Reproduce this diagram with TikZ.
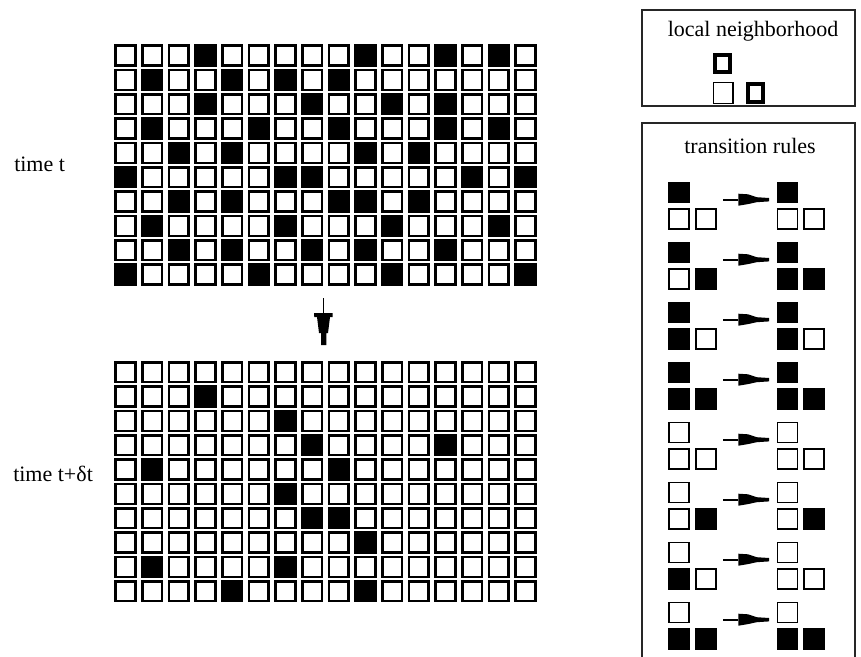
\documentclass[tikz,border=0pt]{standalone}
\usepackage{fontspec}
\setmainfont{Liberation Serif}
\begin{document}
\begin{tikzpicture}[x=0.75pt,y=-0.75pt,
  cellw/.style={draw=black,line width=1.9pt,fill=white},
  cellb/.style={fill=black},
  sqW/.style={draw=black,line width=1.3pt,fill=white},
  sqB/.style={draw=black,line width=1.3pt,fill=black},
  thickbox/.style={draw=black,line width=3pt},
  panel/.style={draw=black!85,line width=1.3pt},
  lbl/.style={font=\fontsize{16.5pt}{19pt}\selectfont,inner sep=0pt},
  nib/.style={fill=black,draw=none}]
\useasboundingbox (0,0) rectangle (861,657);
% ---------- grids ----------
\foreach \gy in {44.3,361} {
  \foreach \r in {0,...,9} {
    \foreach \c in {0,...,15} {
      \draw[cellw] (115.6+26.67*\c,\gy+1.3+24.33*\r) rectangle ++(19.7,19.9);
    }
  }
}
% top grid black cells
\foreach \r/\cols in {0/{3,9,12,14},1/{1,4,6,8},2/{3,7,10,12},3/{1,5,8,12,14},
  4/{2,4,9,11},5/{0,6,7,13,15},6/{2,4,8,9,11},7/{1,6,10,14},8/{2,4,7,9,12},9/{0,5,10,15}} {
  \foreach \c in \cols {
    \fill[cellb] (114.3+26.67*\c,44.3+24.33*\r) rectangle ++(22.3,22.5);
  }
}
% bottom grid black cells
\foreach \r/\cols in {1/{3},2/{6},3/{7,12},4/{1,8},5/{6},6/{7,8},7/{9},8/{1,6},9/{4,9}} {
  \foreach \c in \cols {
    \fill[cellb] (114.3+26.67*\c,361+24.33*\r) rectangle ++(22.3,22.5);
  }
}
% ---------- labels ----------
\node[lbl,anchor=base west] (lt) at (14,171) {time t};
\node[lbl,anchor=base west] (ltt) at (13,481) {time t+δt};
% ---------- vertical arrow ----------
\coordinate (va) at (323.3,298);
\coordinate (vb) at (323.3,313);
\draw[line width=1.2pt] (va) -- (vb);
\fill[nib] (vb) ++(-9.3,0) -- ++(18.7,0) -- ++(0,4) -- ++(-2.7,0) -- ++(-2,16) -- ++(-1.7,0)
  -- ++(0,12) -- ++(-5.3,0) -- ++(0,-12) -- ++(-2,0) -- ++(-2,-16) -- ++(-2.7,0) -- cycle;
% ---------- local neighborhood panel ----------
\draw[panel] (642,10) rectangle (855,106);
\node[lbl,anchor=base] (lnt) at (753,36) {local neighborhood};
\draw[thickbox] (714.7,55.3) rectangle (730.3,72.3);
\draw[sqW] (713.5,82.5) rectangle (733.2,103.5);
\draw[thickbox] (747.7,84.3) rectangle (763.3,102.3);
% ---------- transition rules panel ----------
\draw[panel] (642,662) -- (642,122.7) -- (855,122.7) -- (855,662);
\node[lbl,anchor=base] (trt) at (750,153.3) {transition rules};
\foreach \k/\a/\b/\c/\d/\e/\f in {0/B/W/W/B/W/W,1/B/W/B/B/B/B,2/B/B/W/B/B/W,3/B/B/B/B/B/B,
  4/W/W/W/W/W/W,5/W/W/B/W/W/B,6/W/B/W/W/W/W,7/W/B/B/W/B/B} {
  \pgfmathsetmacro{\T}{181.7+60*\k}
  \draw[sq\a] (668.9,\T+0.9) rectangle (689.1,\T+20.8);
  \draw[sq\b] (668.9,\T+27.5) rectangle (689.1,\T+47.4);
  \draw[sq\c] (695.9,\T+27.5) rectangle (716.1,\T+47.4);
  \draw[sq\d] (777.6,\T+0.9) rectangle (797.4,\T+20.8);
  \draw[sq\e] (777.6,\T+27.5) rectangle (797.4,\T+47.4);
  \draw[sq\f] (804.2,\T+27.5) rectangle (824.1,\T+47.4);
  \coordinate (ra\k) at (723,\T+18);
  \coordinate (rh\k) at (738.3,\T+18);
  \draw[line width=1.2pt] (ra\k) -- (rh\k);
  \fill[nib] (rh\k) ++(0,-6) -- ++(9.7,0.6) -- ++(8.7,2.9) -- ++(12.3,0.8) -- ++(0,3.4)
    -- ++(-12.3,0.8) -- ++(-8.7,1.9) -- ++(-9.7,1.6) -- cycle;
}
\end{tikzpicture}
\end{document}
